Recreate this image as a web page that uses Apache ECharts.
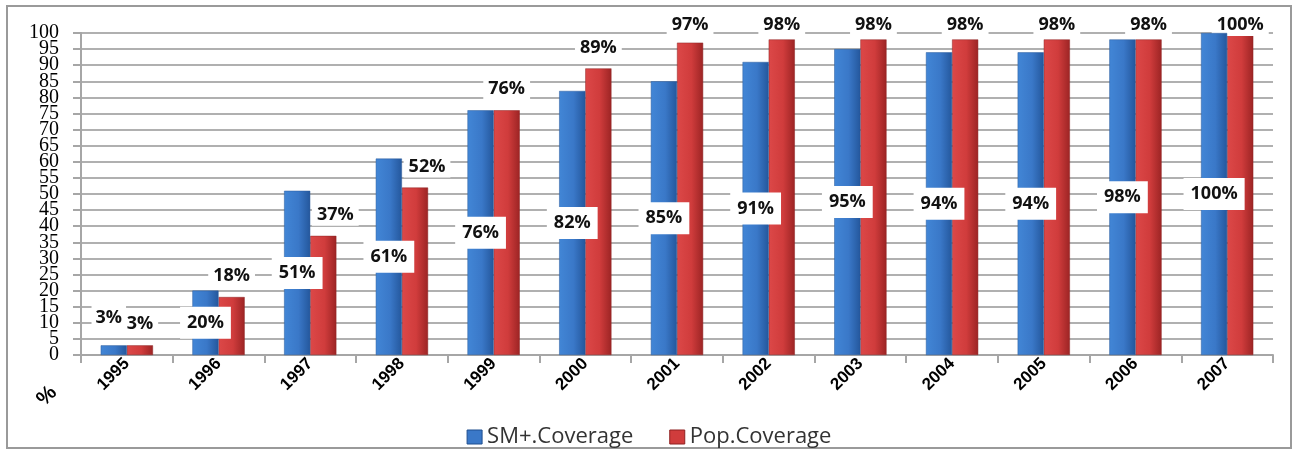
<!DOCTYPE html>
<html>
<head>
<meta charset="utf-8">
<script src="https://cdn.jsdelivr.net/npm/echarts@6/dist/echarts.min.js"></script>
<style>
  html, body { margin: 0; padding: 0; background: #fff; }
  #chart { width: 1298px; height: 454px; }
</style>
</head>
<body>
<div id="chart"></div>
<script>
// data
const years = ['1995', '1996', '1997', '1998', '1999', '2000', '2001', '2002', '2003', '2004', '2005', '2006', '2007'];
const smCoverage = [3, 20, 51, 61, 76, 82, 85, 91, 95, 94, 94, 98, 100];
const popCoverage = [3, 18, 37, 52, 76, 89, 97, 98, 98, 98, 98, 98, 100];
const yTicks = { min: 0, max: 100, interval: 5 };

const myChart = echarts.init(document.getElementById('chart'));

function barGradient(light, mid, dark) {
  return new echarts.graphic.LinearGradient(0, 0, 1, 0, [
    { offset: 0, color: light },
    { offset: 0.55, color: mid },
    { offset: 1, color: dark }
  ]);
}

const labelStyle = {
  show: true,
  formatter: '{c}%',
  fontFamily: '"Open Sans"',
  fontWeight: 'bold',
  fontSize: 18,
  color: '#111',
  backgroundColor: '#fff'
};

const yLabelStyle = {
  margin: 22,
  hideOverlap: false,
  fontFamily: '"Liberation Serif", "DejaVu Serif", serif',
  fontSize: 20,
  lineHeight: 13,
  color: '#000'
};

// small bars get their label lifted above the bar
const smData = smCoverage.map(function (v) {
  if (v < 10) {
    return { value: v, label: { position: 'top', distance: 11, offset: [-5, 0], padding: [7, 4] } };
  }
  return v;
});

const option = {
  backgroundColor: '#fff',
  animation: false,
  graphic: [{
    type: 'rect',
    z: -10,
    shape: { x: 7, y: 6, width: 1284, height: 442 },
    style: { fill: 'none', stroke: '#9a9a9a', lineWidth: 2 }
  }, {
    type: 'text',
    left: 33,
    top: 382,
    rotation: Math.PI / 4,
    style: { text: '%', font: 'bold 21px "Liberation Sans"', fill: '#000' }
  }],
  legend: {
    top: 421,
    left: 'center',
    itemWidth: 15,
    itemHeight: 14,
    itemGap: 36,
    textStyle: { fontFamily: '"Open Sans"', fontSize: 22, color: '#333' },
    data: [
      { name: 'SM+.Coverage', icon: 'rect', itemStyle: { color: '#3a78c8', borderColor: '#1f4f8f', borderWidth: 1 } },
      { name: 'Pop.Coverage', icon: 'rect', itemStyle: { color: '#d03c3c', borderColor: '#8f2020', borderWidth: 1 } }
    ]
  },
  grid: { left: 81, right: 25, top: 33, bottom: 99 },
  xAxis: {
    type: 'category',
    data: years,
    axisLine: { show: true, lineStyle: { color: '#a6a6a6', width: 2 } },
    axisTick: { show: true, length: 8, lineStyle: { color: '#a6a6a6', width: 2 } },
    axisLabel: {
      rotate: 45,
      margin: 6,
      interval: 0,
      fontFamily: '"Liberation Sans", Arial, sans-serif',
      fontWeight: 'bold',
      fontSize: 17,
      color: '#000'
    }
  },
  yAxis: [
    {
      // main axis: lines, ticks, and the end labels
      type: 'value',
      min: yTicks.min,
      max: yTicks.max,
      interval: yTicks.interval,
      axisLine: { show: true, lineStyle: { color: '#a6a6a6', width: 2 } },
      axisTick: { show: true, length: 8, lineStyle: { color: '#a6a6a6', width: 2 } },
      splitLine: { show: true, lineStyle: { color: '#b0b0b0', width: 2 } },
      axisLabel: Object.assign({}, yLabelStyle, {
        showMinLabel: true,
        showMaxLabel: true,
        formatter: function (v) {
          return (v === yTicks.min || v === yTicks.max) ? String(v) : '';
        }
      })
    },
    {
      // same scale, only the inner labels (the crowded ones)
      type: 'value',
      position: 'left',
      min: yTicks.min,
      max: yTicks.max,
      interval: yTicks.interval,
      axisLine: { show: false },
      axisTick: { show: false },
      splitLine: { show: false },
      axisLabel: Object.assign({}, yLabelStyle, {
        showMinLabel: false,
        showMaxLabel: false
      })
    }
  ],
  series: [
    {
      name: 'SM+.Coverage',
      type: 'bar',
      data: smData,
      barGap: '0%',
      barCategoryGap: '43%',
      itemStyle: {
        color: barGradient('#4286d6', '#3a78c8', '#24579c'),
        borderColor: '#2a5a9a',
        borderWidth: 0.5
      },
      label: Object.assign({}, labelStyle, { position: 'inside', padding: [7, 7] }),
      z: 3
    },
    {
      name: 'Pop.Coverage',
      type: 'bar',
      data: popCoverage,
      itemStyle: {
        color: barGradient('#dc4848', '#d03c3c', '#9c2424'),
        borderColor: '#8f2424',
        borderWidth: 0.5
      },
      label: Object.assign({}, labelStyle, { position: 'top', distance: 10, padding: [2, 5] }),
      labelLayout: function (p) {
        const i = p.dataIndex;
        const r = p.rect;
        const lr = p.labelRect;
        const out = {};
        // keep the top labels inside the frame
        if (lr.y < 14) {
          out.dy = 14 - lr.y;
        }
        // move aside when the neighbouring blue bar is in the way
        const bottom = r.y + r.height;
        const blueTop = bottom - smCoverage[i] * r.height / popCoverage[i];
        if (smCoverage[i] > popCoverage[i] && lr.y + lr.height > blueTop) {
          out.dx = 12;
        }
        return out;
      },
      z: 2
    }
  ]
};

myChart.setOption(option);
</script>
</body>
</html>
